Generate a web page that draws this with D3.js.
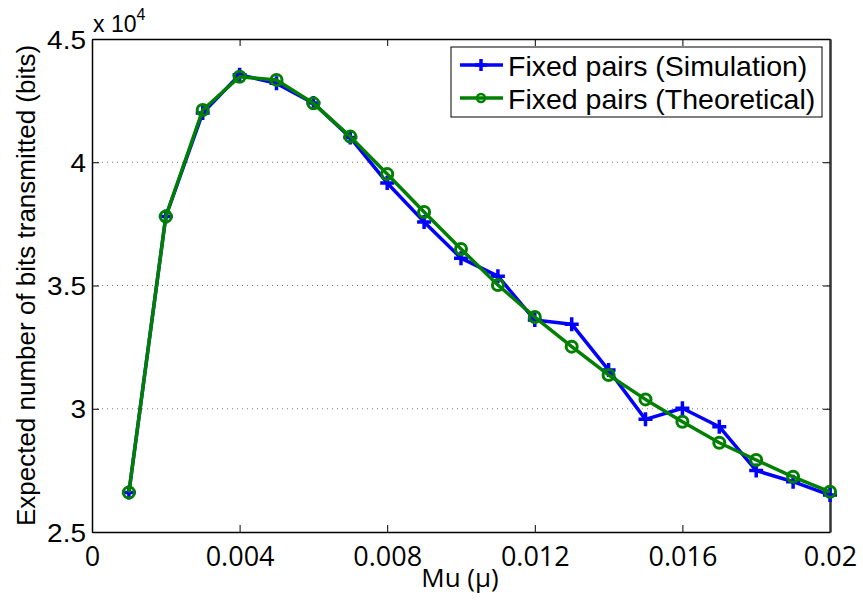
<!DOCTYPE html>
<html>
<head>
  <script src="https://d3js.org/d3.v7.min.js"></script>
  <style>
    body { margin: 0; background: #fff; }
    text { font-family: "Liberation Sans", Arial, sans-serif; fill: #000; }
  </style>
</head>
<body>
  <div id="chart"></div>
  <script>
    // data
    const mu = [0.001, 0.002, 0.003, 0.004, 0.005, 0.006, 0.007, 0.008, 0.009, 0.010,
                0.011, 0.012, 0.013, 0.014, 0.015, 0.016, 0.017, 0.018, 0.019, 0.020];
    const simulation = [26600, 37800, 42000, 43550, 43200, 42400, 41000, 39160, 37580, 36110,
                        35380, 33600, 33430, 31570, 29570, 30020, 29270, 27490, 27040, 26500];
    const theoretical = [26600, 37800, 42120, 43470, 43340, 42390, 41040, 39520, 37980, 36480,
                         35020, 33720, 32520, 31370, 30380, 29470, 28620, 27920, 27240, 26630];
    const xTicks = [0, 0.004, 0.008, 0.012, 0.016, 0.02];
    const xTickLabels = ['0', '0.004', '0.008', '0.012', '0.016', '0.02'];
    const yTicks = [25000, 30000, 35000, 40000, 45000];
    const yTickLabels = ['2.5', '3', '3.5', '4', '4.5'];
    const seriesNames = ['Fixed pairs (Simulation)', 'Fixed pairs (Theoretical)'];
    const seriesColors = ['#0000ff', '#008000'];

    const width = 863, height = 601;
    const margin = { left: 92, right: 33, top: 39, bottom: 69 };

    const svg = d3.select('#chart')
      .append('svg')
      .attr('width', width)
      .attr('height', height);

    const x = d3.scaleLinear()
      .domain([0, 0.02])
      .range([margin.left, width - margin.right]);

    const y = d3.scaleLinear()
      .domain([25000, 45000])
      .range([height - margin.bottom, margin.top]);

    // the reference tick labels look a bit stretched sideways
    function stretch(sel, sx) {
      sel.each(function () {
        const t = d3.select(this);
        const tx = +t.attr('x') || 0;
        const ty = +t.attr('y') || 0;
        t.attr('x', 0).attr('y', 0)
          .attr('transform', `translate(${tx},${ty}) scale(${sx},1)`);
      });
    }

    // dotted grid
    svg.append('g')
      .selectAll('line')
      .data(yTicks.slice(1, -1))
      .join('line')
      .attr('x1', x(0))
      .attr('x2', x(0.02))
      .attr('y1', d => y(d))
      .attr('y2', d => y(d))
      .attr('stroke', '#777')
      .attr('stroke-width', 1)
      .attr('stroke-dasharray', '1,4');

    // axes, MATLAB style with ticks inside on all four sides
    const fmtX = (d, i) => xTickLabels[i];
    const fmtY = (d, i) => yTickLabels[i];

    const axisBottomG = svg.append('g')
      .attr('transform', `translate(0,${y(25000)})`)
      .call(d3.axisBottom(x).tickValues(xTicks).tickFormat(fmtX).tickSizeInner(-7).tickSizeOuter(0));
    const axisTopG = svg.append('g')
      .attr('transform', `translate(0,${y(45000)})`)
      .call(d3.axisTop(x).tickValues(xTicks).tickFormat('').tickSizeInner(-7).tickSizeOuter(0));
    const axisLeftG = svg.append('g')
      .attr('transform', `translate(${x(0)},0)`)
      .call(d3.axisLeft(y).tickValues(yTicks).tickFormat(fmtY).tickSizeInner(-7).tickSizeOuter(0).tickPadding(6));
    const axisRightG = svg.append('g')
      .attr('transform', `translate(${x(0.02)},0)`)
      .call(d3.axisRight(y).tickValues(yTicks).tickFormat('').tickSizeInner(-7).tickSizeOuter(0));

    [axisBottomG, axisTopG, axisLeftG, axisRightG].forEach(g => {
      g.attr('font-family', null).attr('font-size', null);
      g.select('.domain').attr('stroke', '#000').attr('stroke-width', 1.5);
      g.selectAll('.tick line').attr('stroke', '#000');
      g.selectAll('text').attr('fill', '#000');
    });
    axisRightG.select('.domain').attr('stroke', '#333').attr('stroke-width', 2.5);

    axisBottomG.selectAll('text')
      .attr('y', 34)
      .attr('dy', 0)
      .style('font-family', '"Open Sans", "Noto Sans", sans-serif')
      .style('font-size', '27px');

    axisLeftG.selectAll('text')
      .attr('dy', '0.36em')
      .style('font-size', '25px');
    stretch(axisLeftG.selectAll('text'), 1.12);

    // exponent label
    const expo = svg.append('text')
      .attr('x', 93)
      .attr('y', 32)
      .style('font-size', '23px');
    expo.append('tspan').style('font-size', '23px').text('x 10');
    expo.append('tspan').style('font-size', '16px').attr('dy', -12).text('4');

    // axis titles
    svg.append('text')
      .attr('x', 460)
      .attr('y', 587)
      .attr('text-anchor', 'middle')
      .style('font-size', '26px')
      .style('font-family', '"Open Sans", "Noto Sans", sans-serif')
      .text('Mu (\u03bc)');

    svg.append('text')
      .attr('transform', `translate(35,${(y(25000) + y(45000)) / 2}) rotate(-90)`)
      .attr('text-anchor', 'middle')
      .style('font-size', '26px')
      .text('Expected number of bits transmitted (bits)');

    const line = d3.line()
      .x(d => x(d[0]))
      .y(d => y(d[1]));

    const simData = mu.map((m, i) => [m, simulation[i]]);
    const theoData = mu.map((m, i) => [m, theoretical[i]]);

    function plusPath(s) {
      return `M${-s},0H${s}M0,${-s}V${s}`;
    }

    // simulation series
    svg.append('path')
      .datum(simData)
      .attr('d', line)
      .attr('fill', 'none')
      .attr('stroke', seriesColors[0])
      .attr('stroke-width', 3.5)
      .attr('stroke-linejoin', 'round');

    svg.append('g')
      .selectAll('path')
      .data(simData)
      .join('path')
      .attr('transform', d => `translate(${x(d[0])},${y(d[1])})`)
      .attr('d', plusPath(7))
      .attr('stroke', seriesColors[0])
      .attr('stroke-width', 3.5)
      .attr('fill', 'none');

    // theoretical series
    svg.append('path')
      .datum(theoData)
      .attr('d', line)
      .attr('fill', 'none')
      .attr('stroke', seriesColors[1])
      .attr('stroke-width', 3.5)
      .attr('stroke-linejoin', 'round');

    svg.append('g')
      .selectAll('circle')
      .data(theoData)
      .join('circle')
      .attr('cx', d => x(d[0]))
      .attr('cy', d => y(d[1]))
      .attr('r', 5.5)
      .attr('fill', 'none')
      .attr('stroke', seriesColors[1])
      .attr('stroke-width', 3);

    // legend
    const legend = svg.append('g');
    legend.append('rect')
      .attr('x', 451)
      .attr('y', 47)
      .attr('width', 371)
      .attr('height', 70)
      .attr('fill', '#fff')
      .attr('stroke', '#000')
      .attr('stroke-width', 1);

    seriesNames.forEach((name, i) => {
      const cy = 65 + i * 33;
      legend.append('line')
        .attr('x1', 460).attr('x2', 503)
        .attr('y1', cy).attr('y2', cy)
        .attr('stroke', seriesColors[i])
        .attr('stroke-width', 3.5);
      if (i === 0) {
        legend.append('path')
          .attr('transform', `translate(481,${cy})`)
          .attr('d', plusPath(6))
          .attr('stroke', seriesColors[i])
          .attr('stroke-width', 3.5);
      } else {
        legend.append('circle')
          .attr('cx', 481).attr('cy', cy).attr('r', 4)
          .attr('fill', 'none')
          .attr('stroke', seriesColors[i])
          .attr('stroke-width', 2.5);
      }
      legend.append('text')
        .attr('x', 508)
        .attr('y', cy + 11)
        .style('font-size', '28.5px')
        .text(name);
    });
  </script>
</body>
</html>
